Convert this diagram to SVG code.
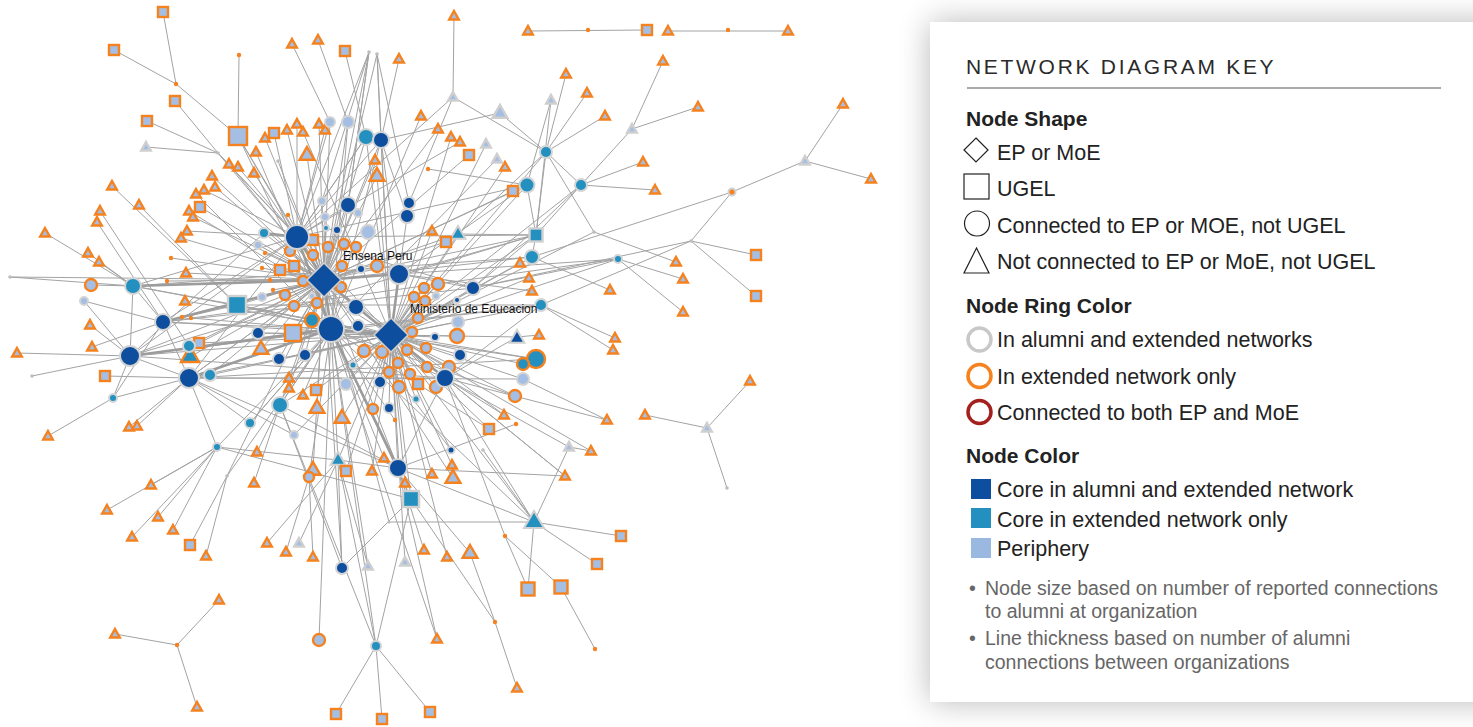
<svg xmlns="http://www.w3.org/2000/svg" width="1473" height="727" viewBox="0 0 1473 727">
<defs>
<style>
.e path{fill:none;stroke:#a3a3a3;stroke-width:1}
.e path.k{stroke:#9c9c9c;stroke-width:2.6}
.d{fill:#0d4f9e;stroke:#d4d4d4;stroke-width:2}
.t{fill:#2390c0;stroke:#d4d4d4;stroke-width:2}
.p{fill:#a4bfe3;stroke:#d4d4d4;stroke-width:2}
.po{fill:#a4bfe3;stroke:#f5821f;stroke-width:2.4}
.tor{fill:#2390c0;stroke:#f5821f;stroke-width:2.4}
.to{fill:#a4bfe3;stroke:#f5821f;stroke-width:2.4}
.tg{fill:#a4bfe3;stroke:#cfcfcf;stroke-width:2.4}
.tt{fill:#2390c0;stroke:#d0d0d0;stroke-width:2}
.tdk{fill:#0d4f9e;stroke:#d0d0d0;stroke-width:2}
.tto{fill:#2390c0;stroke:#f5821f;stroke-width:2.4}
.so{fill:#a4bfe3;stroke:#f5821f;stroke-width:2.4}
.st{fill:#2390c0;stroke:#d0d0d0;stroke-width:2.4}
.od{fill:#f5821f}
.gd{fill:#bdbdbd}
.hub{fill:#0d4f9e;stroke:#d0d0d0;stroke-width:1.5}
.lbl{font-family:"Liberation Sans",Arial,sans-serif;font-size:12px;fill:#111}
.k1{font-family:"Liberation Sans",Arial,sans-serif;font-size:21.5px;fill:#222}
.kb{font-family:"Liberation Sans",Arial,sans-serif;font-size:21px;font-weight:bold;fill:#222}
.kt{font-family:"Liberation Sans",Arial,sans-serif;font-size:21px;letter-spacing:2.7px;fill:#2a2a2a}
.kn{font-family:"Liberation Sans",Arial,sans-serif;font-size:19.5px;fill:#666}
.ic{fill:none;stroke:#222;stroke-width:1.2}
.ring{fill:none;stroke-width:3.5}
</style>
<path id="t" d="M0-5L4.8 3.5H-4.8Z"/>
<path id="tl" d="M0-8L7.4 4.8H-7.4Z"/>
<filter id="sh" x="-20%" y="-20%" width="140%" height="140%"><feGaussianBlur stdDeviation="16"/></filter>
</defs>
<rect width="1473" height="727" fill="#fff"/>
<rect x="930" y="22" width="600" height="680" fill="#000" opacity="0.28" filter="url(#sh)"/>
<rect x="930" y="22" width="560" height="680" fill="#fff"/>

<g id="connectors" class="e">
<path d="M324 280L290 251M324 280L313 255M324 280L328 247M324 280L344 244M324 280L356 247M324 280L303 281M324 280L342 266M324 280L377 266M324 280L341 287M324 280L285 295M324 280L294 306M324 280L317 303M324 280L280 270M324 280L294 266M324 280L313 240M324 280L262 297M324 280L312 296M324 280L361 269M324 280L337 230M324 280L326 228M324 280L325 217M324 280L322 201M324 280L348 205M324 280L264 233M324 280L258 245M324 280L356 307M324 280L312 320M324 280L293 333M324 280L258 333M324 280L237 305M324 280L199 343M324 280L262 268M324 280L265 253M324 280L270 280M324 280L273 290"/>
<path d="M391 335L424 288M391 335L414 297M391 335L425 301M391 335L438 284M391 335L457 336M391 335L418 318M391 335L412 332M391 335L364 351M391 335L382 352M391 335L407 350M391 335L426 348M391 335L398 363M391 335L427 367M391 335L389 372M391 335L410 374M391 335L449 367M391 335L436 387M391 335L399 387M391 335L373 409M391 335L435 337M391 335L460 355M391 335L473 288M391 335L457 300M391 335L436 296M391 335L458 322M391 335L358 326M391 335L356 307M391 335L380 382M391 335L416 399M391 335L389 408M391 335L418 384M391 335L353 365M391 335L346 384"/>
<path d="M163 12L176 84M114 50L176 84M176 84L238 136M239 55L238 136M238 136L297 237M238 136L324 280M238 136L331 329M175 101L218 153M147 121L218 153M146 147L218 153M218 153L324 280M218 153L297 237M218 153L391 335M292 44L330 122M318 40L348 122M345 51L366 137M369 52L297 237M369 52L324 280M369 52L331 329M369 52L348 205M369 52L322 201M377 54L324 280M377 54L391 335M377 54L409 203M377 54L381 140M399 59L381 140M330 122L324 280M330 122L297 237M348 122L324 280M348 122L331 329M366 137L324 280M366 137L391 335M366 137L297 237M381 140L324 280M381 140L391 335M381 140L331 329M381 140L407 216M454 16L453 97M453 97L546 152M453 97L297 237M453 97L409 203M421 116L331 329M438 129L324 280M451 137L391 335M460 142L297 237M469 155L324 280M486 144L391 335M497 159L331 329M505 167L391 335M513 191L324 280M428 169L527 185M500 113L546 152M500 113L381 140M551 100L536 235M551 100L527 185M566 74L546 152M587 93L546 152M605 116L546 152M546 152L581 185M546 152L536 235M546 152L391 335M546 152L458 234M663 61L632 129M698 107L632 129M632 129L581 185M643 162L581 185M655 190L581 185M581 185L536 235M581 185L391 335M581 185L473 288M527 185L536 235M527 185L324 280M527 185L391 335M527 185L399 274"/>
<path d="M843 104L805 161M871 179L805 161M805 161L732 192M732 192L691 241M732 192L532 257M691 241L756 255M691 241L756 296M691 241L473 288M691 241L541 305M594 232L546 152M594 232L676 262M594 232L391 335M618 259L683 279M618 259L683 312M618 259L391 335M618 259L399 274M532 257L610 290M532 257L324 280M532 257L391 335M536 235L391 335M536 235L324 280M536 235L458 234M536 235L532 257M541 305L615 338M541 305L613 350M541 305L391 335M541 305L445 378M520 263L391 335M529 278L391 335M532 291L399 274M539 335L517 337M517 337L391 335M517 337L445 378M458 234L324 280M458 234L391 335M432 231L391 335M446 242L324 280M528 31L647 30M668 31L788 31M536 359L391 335M523 364L391 335M523 379L391 335M523 379L607 420M515 396L391 335M504 415L445 378M516 424L398 468M489 429L391 335M750 381L707 428M645 415L707 428M707 428L727 488M591 451L569 447M569 447L534 522M569 447L445 378M565 476L445 378M483 450L534 522M534 522L621 536M534 522L597 564M534 522L528 589M534 522L398 468M534 522L391 335M534 522L331 329M534 522L389 522M389 522L324 280M505 536L528 589M505 536L561 587M505 536L445 378M561 587L595 649M470 553L495 622M495 622L517 688M470 553L398 468M495 622L411 499"/>
<path d="M398 468L391 335M398 468L324 280M411 499L398 468M411 499L391 335M411 499L376 646M411 499L331 329M376 646L336 714M376 646L382 719M376 646L430 712M376 646L338 460M376 646L324 280M319 640L331 329M342 568L338 460M342 568L411 499M342 568L324 280M437 639L331 329M424 550L398 468M447 557L391 335M405 562L391 335M368 566L331 329M368 566L338 460M338 460L391 335M338 460L331 329M338 460L398 468M299 543L338 460M313 557L309 477M286 552L309 477M267 543L338 460M309 477L331 329M313 470L324 280M346 471L391 335M372 471L391 335M384 458L331 329M405 483L391 335M432 474L391 335M452 465L391 335M453 478L324 280M451 450L391 335M451 450L324 280M342 418L391 335M317 408L324 280M316 390L391 335M303 395L331 329M289 378L331 329M289 388L324 280M395 420L331 329M254 483L280 405M257 452L280 405M280 405L391 335M280 405L324 280M280 405L331 329M294 435L391 335M294 435L189 378M250 423L331 329M250 423L189 378M217 447L151 485M217 447L107 510M217 447L132 537M217 447L158 517M217 447L173 530M217 447L331 329M217 447L189 378M190 545L227 476M206 556L227 476M227 476L331 329M227 476L324 280M219 600L177 645M115 634L177 645M177 645L197 707"/>
<path d="M10 277L133 286M10 277L324 280M133 286L391 335M133 286L297 237M133 286L130 356M133 286L163 322M45 233L133 286M88 253L133 286M99 262L133 286M91 285L133 286M84 301L163 322M84 301L130 356M90 325L130 356M92 347L163 322M17 353L130 356M32 376L130 356M105 376L189 378M113 398L189 378M113 398L163 322M113 398L130 356M48 436L113 398M129 427L189 378M137 426L189 378M130 356L324 280M130 356L391 335M130 356L189 378M163 322L391 335M163 322L331 329M163 322L189 378M189 378L324 280M189 378L391 335M189 378L210 375M210 375L391 335M210 375L324 280M190 357L324 280M189 346L324 280M199 343L391 335M237 305L391 335M237 305L331 329M237 305L163 322M237 305L133 286M258 333L391 335M279 359L391 335M279 359L324 280M305 355L324 280M305 355L391 335M261 349L324 280M112 186L237 305M139 205L237 305M100 211L189 346M97 222L163 322M186 273L324 280M185 301L391 335M171 258L324 280M167 281L324 280M182 317L324 280M191 318L391 335M212 176L324 280M204 190L297 237M215 187L324 280M196 194L331 329M200 207L324 280M189 211L391 335M193 217L324 280M187 231L297 237M181 238L324 280M229 164L324 280M238 167L297 237M254 173L324 280M256 152L331 329M265 138L324 280M274 133L297 237M287 130L324 280M297 124L297 237M303 132L391 335M319 124L324 280M325 130L297 237M307 155L324 280M278 161L324 280M288 215L324 280M375 160L324 280M377 176L391 335M377 176L324 280M264 233L130 356"/>
<path d="M130 356L536 235M130 356L541 305M163 322L618 259M189 378L536 359M189 378L523 379M133 286L532 257M163 322L473 288M237 305L541 305M189 378L445 378M130 356L445 378M297 237L536 235M297 237L527 185M297 237L473 288M331 329L541 305M331 329L536 359M331 329L515 396M331 329L445 378M399 274L536 235M399 274L473 288M399 274L409 203M297 237L348 205M297 237L381 140M331 329L280 405M331 329L250 423M297 237L163 322M297 237L130 356M297 237L189 378M324 280L189 378M391 335L258 333M391 335L237 305M445 378L398 468M445 378L534 522M398 468L280 405M398 468L189 378M411 499L217 447M338 460L217 447M342 568L280 405M376 646L280 405M437 639L398 468M297 237L366 137M399 274L381 140M473 288L536 235M473 288L618 259M445 378L607 420M445 378L565 476M398 468L565 476M391 335L591 451M324 280L504 415M331 329L489 429"/>
<path class="k" d="M324 280L391 335M324 280L297 237M324 280L331 329M391 335L331 329M391 335L399 274M324 280L399 274M297 237L331 329M331 329L189 378M331 329L130 356M324 280L133 286M391 335L445 378M297 237L264 233M331 329L398 468M324 280L163 322"/>
</g>

<g id="nodes">
<g class="od">
<g id="o1"><circle cx="176" cy="84" r="2.2"/></g><g id="o2"><circle cx="239" cy="55" r="2.2"/></g><g id="o3"><circle cx="428" cy="169" r="2.2"/></g><g id="o4"><circle cx="588" cy="30" r="2.2"/></g><g id="o5"><circle cx="728" cy="30" r="2.2"/></g><g id="o6"><circle cx="171" cy="258" r="2.2"/></g><g id="o7"><circle cx="167" cy="281" r="2.2"/></g><g id="o8"><circle cx="182" cy="317" r="2.2"/></g><g id="o9"><circle cx="191" cy="318" r="2.2"/></g><g id="o10"><circle cx="262" cy="268" r="2.2"/></g><g id="o11"><circle cx="265" cy="253" r="2.2"/></g><g id="o12"><circle cx="270" cy="280" r="2.2"/></g><g id="o13"><circle cx="273" cy="290" r="2.2"/></g><g id="o14"><circle cx="288" cy="215" r="2.2"/></g><g id="o15"><circle cx="395" cy="420" r="2.2"/></g><g id="o16"><circle cx="516" cy="424" r="2.2"/></g><g id="o17"><circle cx="505" cy="536" r="2.2"/></g><g id="o18"><circle cx="495" cy="622" r="2.2"/></g><g id="o19"><circle cx="595" cy="649" r="2.2"/></g><g id="o20"><circle cx="177" cy="645" r="2.2"/></g>
</g>
<g class="gd">
<g id="g1"><circle cx="369" cy="52" r="1.8"/></g><g id="g2"><circle cx="377" cy="54" r="1.8"/></g><g id="g3"><circle cx="218" cy="153" r="1.8"/></g><g id="g4"><circle cx="278" cy="161" r="1.8"/></g><g id="g5"><circle cx="10" cy="277" r="1.8"/></g><g id="g6"><circle cx="32" cy="376" r="1.8"/></g><g id="g7"><circle cx="594" cy="232" r="1.8"/></g><g id="g8"><circle cx="691" cy="241" r="1.8"/></g><g id="g9"><circle cx="727" cy="488" r="1.8"/></g><g id="g10"><circle cx="483" cy="450" r="1.8"/></g><g id="g11"><circle cx="227" cy="476" r="1.8"/></g><g id="g12"><circle cx="389" cy="522" r="1.5"/></g>
</g>
<g id="x1"><circle cx="732" cy="192" r="3.5" fill="#f5821f" stroke="#d0d0d0" stroke-width="2"/></g>
<g class="to">
<g id="a1"><use href="#t" x="292" y="44"/></g><g id="a2"><use href="#t" x="318" y="40"/></g><g id="a3"><use href="#t" x="399" y="59"/></g><g id="a4"><use href="#t" x="454" y="16"/></g><g id="a5"><use href="#t" x="421" y="116"/></g><g id="a6"><use href="#t" x="438" y="129"/></g><g id="a7"><use href="#t" x="451" y="137"/></g><g id="a8"><use href="#t" x="460" y="142"/></g><g id="a9"><use href="#t" x="375" y="160"/></g><g id="a10"><use href="#t" x="265" y="138"/></g>
<g id="a11"><use href="#t" x="287" y="130"/></g><g id="a12"><use href="#t" x="297" y="124"/></g><g id="a13"><use href="#t" x="303" y="132"/></g><g id="a14"><use href="#t" x="319" y="124"/></g><g id="a15"><use href="#t" x="325" y="130"/></g><g id="a16"><use href="#t" x="256" y="152"/></g><g id="a17"><use href="#t" x="229" y="164"/></g><g id="a18"><use href="#t" x="238" y="167"/></g><g id="a19"><use href="#t" x="254" y="173"/></g><g id="a20"><use href="#t" x="212" y="176"/></g>
<g id="a21"><use href="#t" x="204" y="190"/></g><g id="a22"><use href="#t" x="215" y="187"/></g><g id="a23"><use href="#t" x="196" y="194"/></g><g id="a24"><use href="#t" x="189" y="211"/></g><g id="a25"><use href="#t" x="193" y="217"/></g><g id="a26"><use href="#t" x="187" y="231"/></g><g id="a27"><use href="#t" x="181" y="238"/></g><g id="a28"><use href="#t" x="112" y="186"/></g><g id="a29"><use href="#t" x="139" y="205"/></g><g id="a30"><use href="#t" x="100" y="211"/></g>
<g id="a31"><use href="#t" x="97" y="222"/></g><g id="a32"><use href="#t" x="45" y="233"/></g><g id="a33"><use href="#t" x="88" y="253"/></g><g id="a34"><use href="#t" x="99" y="262"/></g><g id="a35"><use href="#t" x="186" y="273"/></g><g id="a36"><use href="#t" x="185" y="301"/></g><g id="a37"><use href="#t" x="90" y="325"/></g><g id="a38"><use href="#t" x="92" y="347"/></g><g id="a39"><use href="#t" x="17" y="353"/></g><g id="a40"><use href="#t" x="432" y="231"/></g>
<g id="a41"><use href="#t" x="520" y="263"/></g><g id="a42"><use href="#t" x="529" y="278"/></g><g id="a43"><use href="#t" x="532" y="291"/></g><g id="a44"><use href="#t" x="539" y="335"/></g><g id="a45"><use href="#t" x="528" y="31"/></g><g id="a46"><use href="#t" x="668" y="31"/></g><g id="a47"><use href="#t" x="788" y="31"/></g><g id="a48"><use href="#t" x="663" y="61"/></g><g id="a49"><use href="#t" x="566" y="74"/></g><g id="a50"><use href="#t" x="587" y="93"/></g>
<g id="a51"><use href="#t" x="605" y="116"/></g><g id="a52"><use href="#t" x="698" y="107"/></g><g id="a53"><use href="#t" x="843" y="104"/></g><g id="a54"><use href="#t" x="871" y="179"/></g><g id="a55"><use href="#t" x="643" y="162"/></g><g id="a56"><use href="#t" x="655" y="190"/></g><g id="a57"><use href="#t" x="505" y="167"/></g><g id="a58"><use href="#t" x="676" y="262"/></g><g id="a59"><use href="#t" x="683" y="279"/></g><g id="a60"><use href="#t" x="610" y="290"/></g>
<g id="a61"><use href="#t" x="683" y="312"/></g><g id="a62"><use href="#t" x="615" y="338"/></g><g id="a63"><use href="#t" x="613" y="350"/></g><g id="a64"><use href="#t" x="750" y="381"/></g><g id="a65"><use href="#t" x="645" y="415"/></g><g id="a66"><use href="#t" x="607" y="420"/></g><g id="a67"><use href="#t" x="591" y="451"/></g><g id="a68"><use href="#t" x="565" y="476"/></g><g id="a69"><use href="#t" x="504" y="415"/></g><g id="a70"><use href="#t" x="303" y="395"/></g>
<g id="a71"><use href="#t" x="289" y="378"/></g><g id="a72"><use href="#t" x="289" y="388"/></g><g id="a73"><use href="#t" x="129" y="427"/></g><g id="a74"><use href="#t" x="137" y="426"/></g><g id="a75"><use href="#t" x="48" y="436"/></g><g id="a76"><use href="#t" x="257" y="452"/></g><g id="a77"><use href="#t" x="254" y="483"/></g><g id="a78"><use href="#t" x="151" y="485"/></g><g id="a79"><use href="#t" x="107" y="510"/></g><g id="a80"><use href="#t" x="158" y="517"/></g>
<g id="a81"><use href="#t" x="173" y="530"/></g><g id="a82"><use href="#t" x="132" y="537"/></g><g id="a83"><use href="#t" x="206" y="556"/></g><g id="a84"><use href="#t" x="267" y="543"/></g><g id="a85"><use href="#t" x="286" y="552"/></g><g id="a86"><use href="#t" x="313" y="557"/></g><g id="a87"><use href="#t" x="372" y="471"/></g><g id="a88"><use href="#t" x="384" y="458"/></g><g id="a89"><use href="#t" x="405" y="483"/></g><g id="a90"><use href="#t" x="432" y="474"/></g>
<g id="a91"><use href="#t" x="452" y="465"/></g><g id="a92"><use href="#t" x="424" y="550"/></g><g id="a93"><use href="#t" x="447" y="557"/></g><g id="a94"><use href="#t" x="437" y="639"/></g><g id="a95"><use href="#t" x="219" y="600"/></g><g id="a96"><use href="#t" x="115" y="634"/></g><g id="a97"><use href="#t" x="197" y="707"/></g><g id="a98"><use href="#t" x="517" y="688"/></g>
<g id="b1"><use href="#tl" x="377" y="176"/></g><g id="b2"><use href="#tl" x="307" y="155"/></g><g id="b3"><use href="#tl" x="261" y="349"/></g><g id="b4"><use href="#tl" x="317" y="408"/></g><g id="b5"><use href="#tl" x="342" y="418"/></g><g id="b6"><use href="#tl" x="313" y="470"/></g><g id="b7"><use href="#tl" x="453" y="478"/></g><g id="b8"><use href="#tl" x="470" y="553"/></g>
</g>
<g class="tg">
<g id="c1"><use href="#t" x="146" y="147"/></g><g id="c2"><use href="#t" x="453" y="97"/></g><g id="c3"><use href="#tl" x="500" y="113"/></g><g id="c4"><use href="#t" x="486" y="144"/></g><g id="c5"><use href="#t" x="497" y="159"/></g><g id="c6"><use href="#t" x="551" y="100"/></g><g id="c7"><use href="#t" x="632" y="129"/></g><g id="c8"><use href="#t" x="805" y="161"/></g><g id="c9"><use href="#t" x="569" y="447"/></g><g id="c10"><use href="#t" x="707" y="428"/></g><g id="c11"><use href="#t" x="299" y="543"/></g><g id="c12"><use href="#t" x="368" y="566"/></g><g id="c13"><use href="#t" x="405" y="562"/></g>
</g>
<g class="tt"><g id="e1"><use href="#tl" x="458" y="234"/></g><g id="e2"><use href="#tl" x="338" y="460"/></g><g id="e3"><path d="M534 511L544 528H524Z"/></g></g>
<g class="tdk"><g id="e4"><use href="#tl" x="517" y="338"/></g></g>
<g class="tto"><g id="e5"><path d="M190 346L199 362H181Z"/></g></g>
<g class="so">
<g id="s1"><rect x="158" y="7" width="10" height="10"/></g><g id="s2"><rect x="109" y="45" width="10" height="10"/></g><g id="s3"><rect x="170" y="96" width="10" height="10"/></g><g id="s4"><rect x="142" y="116" width="10" height="10"/></g><g id="s5"><rect x="229" y="127" width="18" height="18"/></g><g id="s6"><rect x="269" y="128" width="10" height="10"/></g><g id="s7"><rect x="340" y="46" width="10" height="10"/></g><g id="s8"><rect x="464" y="150" width="10" height="10"/></g><g id="s9"><rect x="308" y="235" width="10" height="10"/></g><g id="s10"><rect x="275" y="265" width="10" height="10"/></g>
<g id="s11"><rect x="289" y="261" width="10" height="10"/></g><g id="s12"><rect x="195" y="202" width="10" height="10"/></g><g id="s13"><rect x="194" y="338" width="10" height="10"/></g><g id="s14"><rect x="285" y="325" width="16" height="16"/></g><g id="s15"><rect x="100" y="371" width="10" height="10"/></g><g id="s16"><rect x="311" y="385" width="10" height="10"/></g><g id="s17"><rect x="413" y="379" width="10" height="10"/></g><g id="s18"><rect x="441" y="237" width="10" height="10"/></g><g id="s19"><rect x="508" y="186" width="10" height="10"/></g><g id="s20"><rect x="642" y="25" width="10" height="10"/></g>
<g id="s21"><rect x="751" y="250" width="10" height="10"/></g><g id="s22"><rect x="751" y="291" width="10" height="10"/></g><g id="s23"><rect x="341" y="466" width="10" height="10"/></g><g id="s24"><rect x="484" y="424" width="10" height="10"/></g><g id="s25"><rect x="185" y="540" width="10" height="10"/></g><g id="s26"><rect x="616" y="531" width="10" height="10"/></g><g id="s27"><rect x="592" y="559" width="10" height="10"/></g><g id="s28"><rect x="521.5" y="582.5" width="13" height="13"/></g><g id="s29"><rect x="554.5" y="580.5" width="13" height="13"/></g><g id="s30"><rect x="331" y="709" width="10" height="10"/></g>
<g id="s31"><rect x="377" y="714" width="10" height="10"/></g><g id="s32"><rect x="425" y="707" width="10" height="10"/></g>
</g>
<g class="st"><g id="u1"><rect x="228" y="296" width="18" height="18"/></g><g id="u2"><rect x="529.5" y="228.5" width="13" height="13"/></g><g id="u3"><rect x="403" y="491" width="16" height="16"/></g></g>
<g class="p">
<g id="p1"><circle cx="330" cy="122" r="5"/></g><g id="p2"><circle cx="348" cy="122" r="6"/></g><g id="p3"><circle cx="322" cy="201" r="4"/></g><g id="p4"><circle cx="325" cy="217" r="4"/></g><g id="p5"><circle cx="358" cy="213" r="4"/></g><g id="p6"><circle cx="368" cy="232" r="7"/></g><g id="p7"><circle cx="258" cy="245" r="4"/></g><g id="p8"><circle cx="262" cy="297" r="4"/></g><g id="p9"><circle cx="84" cy="301" r="4"/></g><g id="p10"><circle cx="312" cy="296" r="3"/></g><g id="p11"><circle cx="436" cy="296" r="3.5"/></g><g id="p12"><circle cx="458" cy="322" r="6"/></g><g id="p13"><circle cx="346" cy="384" r="6"/></g><g id="p14"><circle cx="294" cy="435" r="4"/></g><g id="p15"><circle cx="523" cy="379" r="6"/></g>
</g>
<g class="po">
<g id="q1"><circle cx="91" cy="285" r="6"/></g><g id="q2"><circle cx="290" cy="251" r="5"/></g><g id="q3"><circle cx="313" cy="255" r="5"/></g><g id="q4"><circle cx="328" cy="247" r="5"/></g><g id="q5"><circle cx="344" cy="244" r="5"/></g><g id="q6"><circle cx="356" cy="247" r="5"/></g><g id="q7"><circle cx="303" cy="281" r="5"/></g><g id="q8"><circle cx="342" cy="266" r="5"/></g><g id="q9"><circle cx="377" cy="266" r="6"/></g><g id="q10"><circle cx="341" cy="287" r="5"/></g>
<g id="q11"><circle cx="285" cy="295" r="5"/></g><g id="q12"><circle cx="294" cy="306" r="5"/></g><g id="q13"><circle cx="317" cy="303" r="5"/></g><g id="q14"><circle cx="424" cy="288" r="5"/></g><g id="q15"><circle cx="414" cy="297" r="5"/></g><g id="q16"><circle cx="425" cy="301" r="5"/></g><g id="q17"><circle cx="438" cy="284" r="6"/></g><g id="q18"><circle cx="457" cy="336" r="7"/></g><g id="q19"><circle cx="418" cy="318" r="5"/></g><g id="q20"><circle cx="412" cy="332" r="5"/></g>
<g id="q21"><circle cx="364" cy="351" r="6"/></g><g id="q22"><circle cx="382" cy="352" r="6"/></g><g id="q23"><circle cx="407" cy="350" r="5"/></g><g id="q24"><circle cx="426" cy="348" r="5"/></g><g id="q25"><circle cx="398" cy="363" r="5"/></g><g id="q26"><circle cx="427" cy="367" r="5"/></g><g id="q27"><circle cx="389" cy="372" r="5"/></g><g id="q28"><circle cx="410" cy="374" r="5"/></g><g id="q29"><circle cx="449" cy="367" r="6"/></g><g id="q30"><circle cx="436" cy="387" r="6"/></g>
<g id="q31"><circle cx="399" cy="387" r="6"/></g><g id="q32"><circle cx="373" cy="409" r="5"/></g><g id="q33"><circle cx="309" cy="477" r="5"/></g><g id="q34"><circle cx="515" cy="396" r="6"/></g><g id="q35"><circle cx="319" cy="640" r="6"/></g>
</g>
<g class="t">
<g id="h1"><circle cx="133" cy="286" r="8"/></g><g id="h2"><circle cx="366" cy="137" r="8"/></g><g id="h3"><circle cx="264" cy="233" r="5"/></g><g id="h4"><circle cx="280" cy="405" r="8"/></g><g id="h5"><circle cx="250" cy="423" r="5"/></g><g id="h6"><circle cx="210" cy="375" r="6"/></g><g id="h7"><circle cx="189" cy="346" r="6"/></g><g id="h8"><circle cx="113" cy="398" r="4"/></g><g id="h9"><circle cx="217" cy="447" r="4"/></g><g id="h10"><circle cx="326" cy="228" r="3"/></g>
<g id="h11"><circle cx="353" cy="365" r="3.5"/></g><g id="h12"><circle cx="416" cy="399" r="3.5"/></g><g id="h13"><circle cx="546" cy="152" r="6"/></g><g id="h14"><circle cx="527" cy="185" r="7.5"/></g><g id="h15"><circle cx="581" cy="185" r="6"/></g><g id="h16"><circle cx="532" cy="257" r="7"/></g><g id="h17"><circle cx="618" cy="259" r="4"/></g><g id="h18"><circle cx="541" cy="305" r="6"/></g><g id="h19"><circle cx="376" cy="646" r="5"/></g>
</g>
<g class="tor"><g id="r1"><circle cx="312" cy="320" r="7"/></g><g id="r2"><circle cx="536" cy="359" r="9"/></g><g id="r3"><circle cx="523" cy="364" r="6"/></g></g>
<g class="d">
<g id="k1"><circle cx="297" cy="237" r="12"/></g><g id="k2"><circle cx="331" cy="329" r="13"/></g><g id="k3"><circle cx="399" cy="274" r="10"/></g><g id="k4"><circle cx="348" cy="205" r="8"/></g><g id="k5"><circle cx="409" cy="203" r="6"/></g><g id="k6"><circle cx="407" cy="216" r="7"/></g><g id="k7"><circle cx="381" cy="140" r="8"/></g><g id="k8"><circle cx="130" cy="356" r="10"/></g><g id="k9"><circle cx="189" cy="378" r="10"/></g><g id="k10"><circle cx="163" cy="322" r="8"/></g>
<g id="k11"><circle cx="258" cy="333" r="6"/></g><g id="k12"><circle cx="279" cy="359" r="6"/></g><g id="k13"><circle cx="356" cy="307" r="8"/></g><g id="k14"><circle cx="358" cy="326" r="6"/></g><g id="k15"><circle cx="361" cy="269" r="4"/></g><g id="k16"><circle cx="337" cy="230" r="4"/></g><g id="k17"><circle cx="445" cy="378" r="9"/></g><g id="k18"><circle cx="473" cy="288" r="7"/></g><g id="k19"><circle cx="460" cy="355" r="6"/></g><g id="k20"><circle cx="435" cy="337" r="4"/></g>
<g id="k21"><circle cx="457" cy="300" r="3"/></g><g id="k22"><circle cx="380" cy="382" r="6"/></g><g id="k23"><circle cx="305" cy="355" r="6"/></g><g id="k24"><circle cx="398" cy="468" r="9"/></g><g id="k25"><circle cx="389" cy="408" r="5"/></g><g id="k26"><circle cx="451" cy="450" r="3.5"/></g><g id="k27"><circle cx="342" cy="568" r="6"/></g>
</g>
<g id="ep" class="hub"><path d="M324 263L341 280L324 297L307 280Z"/></g>
<g id="moe" class="hub"><path d="M391 318L408 335L391 352L374 335Z"/></g>
</g>
<text class="lbl" x="343" y="260">Ensena Peru</text>
<text class="lbl" x="410" y="313">Ministerio de Educacion</text>

<g id="key">
<text class="kt" x="966" y="74">NETWORK DIAGRAM KEY</text>
<line x1="967" y1="88" x2="1441" y2="88" stroke="#555" stroke-width="1.2"/>
<text class="kb" x="966" y="126">Node Shape</text>
<path class="ic" d="M976 138L988 150L976 162L964 150Z"/>
<text class="k1" x="997" y="160">EP or MoE</text>
<rect class="ic" x="964" y="174" width="25" height="25"/>
<text class="k1" x="997" y="196">UGEL</text>
<circle class="ic" cx="977" cy="223.5" r="12.5"/>
<text class="k1" x="997" y="233">Connected to EP or MOE, not UGEL</text>
<path class="ic" d="M976.5 248L989 273H964Z"/>
<text class="k1" x="997" y="269">Not connected to EP or MoE, not UGEL</text>
<text class="kb" x="966" y="313">Node Ring Color</text>
<circle class="ring" cx="979.5" cy="339.5" r="11.5" stroke="#c8c8c8"/>
<text class="k1" x="997" y="347">In alumni and extended networks</text>
<circle class="ring" cx="979.5" cy="376" r="11.5" stroke="#f5821f"/>
<text class="k1" x="997" y="384">In extended network only</text>
<circle class="ring" cx="979.5" cy="412" r="11.5" stroke="#a3201c"/>
<text class="k1" x="997" y="420">Connected to both EP and MoE</text>
<text class="kb" x="966" y="463">Node Color</text>
<rect x="971" y="479" width="20" height="20" fill="#0d4f9e"/>
<text class="k1" x="997" y="497">Core in alumni and extended network</text>
<rect x="971" y="508" width="20" height="20" fill="#2390c0"/>
<text class="k1" x="997" y="527">Core in extended network only</text>
<rect x="971" y="538" width="20" height="20" fill="#9ab8e0"/>
<text class="k1" x="997" y="556">Periphery</text>
<text class="kn" y="595"><tspan x="969">•</tspan><tspan x="985">Node size based on number of reported connections</tspan></text>
<text class="kn" x="985" y="618">to alumni at organization</text>
<text class="kn" y="645"><tspan x="969">•</tspan><tspan x="985">Line thickness based on number of alumni</tspan></text>
<text class="kn" x="985" y="669">connections between organizations</text>
</g>
</svg>
